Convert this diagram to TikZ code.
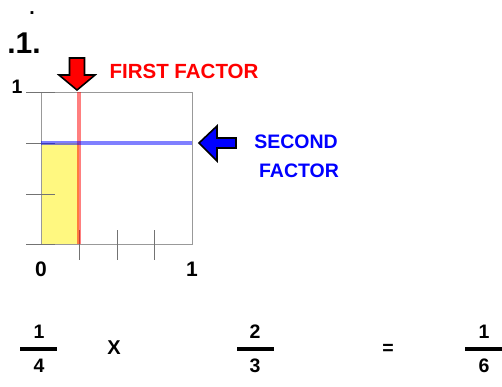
\documentclass[tikz,border=0pt]{standalone}
\usepackage{fontspec}
\setmainfont{Liberation Sans}
\tikzset{
  lbl/.style={inner sep=0, anchor=base, font=\bfseries\fontsize{19.5}{19.5}\selectfont},
  fracbar/.style={fill=black, inner sep=0, minimum width=37, minimum height=4},
  gridline/.style={draw=black!40, line width=1},
  tickline/.style={draw=black!55, line width=1}
}
\begin{document}
\begin{tikzpicture}[x=1pt, y=-1pt]
    \useasboundingbox (0,0) rectangle (502,386);

    % Title
    \node[lbl] (dot) at (32,14) {.};
    \node[lbl, font=\bfseries\fontsize{30}{30}\selectfont] (title) at (24,53) {.1.};

    % Unit square
    \fill[yellow!50] (41,143) rectangle (79,244);
    \draw[gridline] (41,92) rectangle (192,244);
    \foreach \y in {92,143,194,244}
        \draw[tickline] (26,\y) -- (55,\y);
    \foreach \x in {79,117,154}
        \draw[tickline] (\x,230) -- (\x,260);

    % Factor lines
    \draw[red, opacity=0.5, line width=4.5] (79,92) -- (79,244);
    \draw[blue, opacity=0.5, line width=4.5] (41,143) -- (192,143);

    % Axis labels
    \node[lbl] (yone) at (17,93) {1};
    \node[lbl, font=\bfseries\fontsize{21}{21}\selectfont] (xzero) at (41,276) {0};
    \node[lbl, font=\bfseries\fontsize{21}{21}\selectfont] (xone) at (192,276) {1};

    % Pointers
    \draw[fill=red, line width=1.6, line join=miter]
        (69.5,58) -- (84.5,58) -- (84.5,75) -- (95,75) -- (77,90) -- (59,75) -- (69.5,75) -- cycle;
    \draw[fill=blue, line width=1.6, line join=miter]
        (236,138) -- (236,148) -- (217,148) -- (217,161) -- (199,143) -- (217,126) -- (217,138) -- cycle;
    \node[lbl, red, font=\bfseries\fontsize{20.5}{20.5}\selectfont] (first) at (184,78) {FIRST FACTOR};
    \node[lbl, blue] (second) at (296,148) {SECOND};
    \node[lbl, blue] (factor) at (299,177) {FACTOR};

    % Product
    \node[lbl] (num1) at (39,338) {1};
    \node[fracbar] (bar1) at (38.5,349) {};
    \node[lbl] (den1) at (39,372) {4};
    \node[lbl, font=\bfseries\fontsize{20}{20}\selectfont] (times) at (114,354) {X};
    \node[lbl] (num2) at (255,338) {2};
    \node[fracbar] (bar2) at (255,349) {};
    \node[lbl] (den2) at (255,372) {3};
    \node[lbl] (equals) at (388,354) {=};
    \node[lbl] (num3) at (484,338) {1};
    \node[fracbar] (bar3) at (483.5,349) {};
    \node[lbl] (den3) at (484,372) {6};
\end{tikzpicture}
\end{document}
